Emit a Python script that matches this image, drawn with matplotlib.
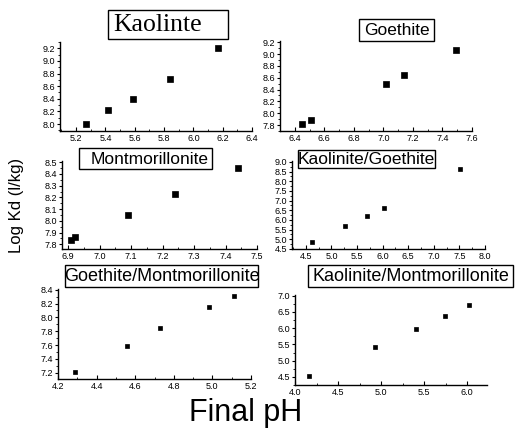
import matplotlib
matplotlib.use("Agg")
import matplotlib.pyplot as plt
from matplotlib.ticker import MultipleLocator
from matplotlib.patches import Rectangle
import numpy as np

W, H = 515, 433

# Data
kao_ph = [5.27, 5.42, 5.59, 5.84, 6.17]
kao_kd = [8.00, 8.22, 8.40, 8.72, 9.20]
goe_ph = [6.45, 6.51, 7.02, 7.14, 7.49]
goe_kd = [7.81, 7.89, 8.50, 8.65, 9.07]
mon_ph = [6.91, 6.92, 7.09, 7.24, 7.44]
mon_kd = [7.84, 7.86, 8.05, 8.23, 8.45]
kg_ph = [4.62, 5.27, 5.69, 6.02, 7.52]
kg_kd = [4.87, 5.70, 6.23, 6.62, 8.62]
gm_ph = [4.29, 4.56, 4.73, 4.98, 5.11]
gm_kd = [7.21, 7.59, 7.84, 8.15, 8.31]
km_ph = [4.16, 4.93, 5.40, 5.74, 6.02]
km_kd = [4.54, 5.43, 5.98, 6.38, 6.71]

titles = ["Kaolinte", "Goethite", "Montmorillonite", "Kaolinite/Goethite",
          "Goethite/Montmorillonite", "Kaolinite/Montmorillonite"]

plt.rcParams['font.family'] = ['Liberation Sans', 'DejaVu Sans']
fig = plt.figure(figsize=(W / 100, H / 100), dpi=100)


def add_ax(l, r, t, b):
    return fig.add_axes([l / W, 1 - b / H, (r - l) / W, (b - t) / H])


panels = [
    dict(box=(60, 252, 42, 131), xl=(5.09, 6.4), yl=(7.89, 9.3), xm=0.2, ym=0.2,
         x=kao_ph, y=kao_kd, ms=4.5, xt=(5.2, 6.4), yt=(8.0, 9.2)),
    dict(box=(280, 472, 41, 131), xl=(6.3, 7.6), yl=(7.7, 9.22), xm=0.2, ym=0.2,
         x=goe_ph, y=goe_kd, ms=5, xt=(6.4, 7.6), yt=(7.8, 9.2)),
    dict(box=(62, 257, 161, 249), xl=(6.88, 7.5), yl=(7.76, 8.51), xm=0.1, ym=0.1,
         x=mon_ph, y=mon_kd, ms=5, xt=(6.9, 7.5), yt=(7.8, 8.5)),
    dict(box=(292, 485, 161, 249), xl=(4.23, 8.0), yl=(4.5, 9.05), xm=0.5, ym=0.5,
         x=kg_ph, y=kg_kd, ms=3, xt=(4.5, 8.0), yt=(4.5, 9.0)),
    dict(box=(58, 251, 289, 379), xl=(4.2, 5.2), yl=(7.11, 8.41), xm=0.2, ym=0.2,
         x=gm_ph, y=gm_kd, ms=3, xt=(4.2, 5.2), yt=(7.2, 8.4)),
    dict(box=(295, 487, 295, 385), xl=(4.0, 6.23), yl=(4.25, 7.02), xm=0.5, ym=0.5,
         x=km_ph, y=km_kd, ms=3, xt=(4.0, 6.0), yt=(4.5, 7.0)),
]

for p in panels:
    ax = add_ax(*p['box'])
    ax.plot(p['x'], p['y'], 's', color='black', ms=p['ms'], mec='black', mew=0.5,
            clip_on=False)
    ax.set_xlim(*p['xl'])
    ax.set_ylim(*p['yl'])
    xs = np.round(np.arange(p['xt'][0], p['xt'][1] + 1e-6, p['xm']), 2)
    ys = np.round(np.arange(p['yt'][0], p['yt'][1] + 1e-6, p['ym']), 2)
    ax.set_xticks(xs)
    ax.set_yticks(ys)
    ax.set_xticklabels([f"{v:.1f}" for v in xs])
    ax.set_yticklabels([f"{v:.1f}" for v in ys])
    ax.xaxis.set_minor_locator(MultipleLocator(p['xm'] / 2))
    ax.yaxis.set_minor_locator(MultipleLocator(p['ym'] / 2))
    for s in ['top', 'right']:
        ax.spines[s].set_visible(False)
    for s in ['left', 'bottom']:
        ax.spines[s].set_linewidth(1.0)
    ax.tick_params(axis='x', which='major', direction='in', length=3, width=0.8,
                   labelsize=6.5, pad=2)
    ax.tick_params(axis='x', which='minor', direction='in', length=1.5, width=0.6)
    ax.tick_params(axis='y', which='major', direction='out', length=2.5, width=0.8,
                   labelsize=6.5, pad=1)
    ax.tick_params(axis='y', which='minor', direction='out', length=1.5, width=0.6)
    ax.patch.set_alpha(0)

# Title boxes: (left, right, top, bottom) in px, text x, fontsize, align, family
tboxes = [
    ((108, 228, 10, 39), 113, 18.5, 'left', ['Liberation Serif', 'DejaVu Serif']),
    ((359, 434, 19, 41), 396.5, 12.5, 'center', None),
    ((79, 212, 148, 169), 209, 12.5, 'right', None),
    ((298, 435, 150, 168), 366.5, 12.5, 'center', None),
    ((65, 258, 265, 287), 161.5, 13, 'center', None),
    ((308, 513, 265, 287), 410.5, 13, 'center', None),
]
for (bx, tx, fs, ha, fam), t in zip(tboxes, titles):
    l, r, tp, b = bx
    fig.add_artist(Rectangle((l / W, 1 - b / H), (r - l) / W, (b - tp) / H,
                             transform=fig.transFigure, fc='white', ec='black',
                             lw=1.0, zorder=4))
    kw = {}
    if fam:
        kw['family'] = fam
    fig.text(tx / W, 1 - ((tp + b) / 2 + 0.5) / H, t, ha=ha, va='center',
             fontsize=fs, zorder=5, **kw)

fig.text(17 / W, 1 - 205 / H, "Log Kd (l/kg)", rotation=90, ha='center',
         va='center', fontsize=12)
fig.text(246 / W, 1 - 413 / H, "Final pH", ha='center', va='center', fontsize=22)

fig.savefig("out.png", dpi=100)
